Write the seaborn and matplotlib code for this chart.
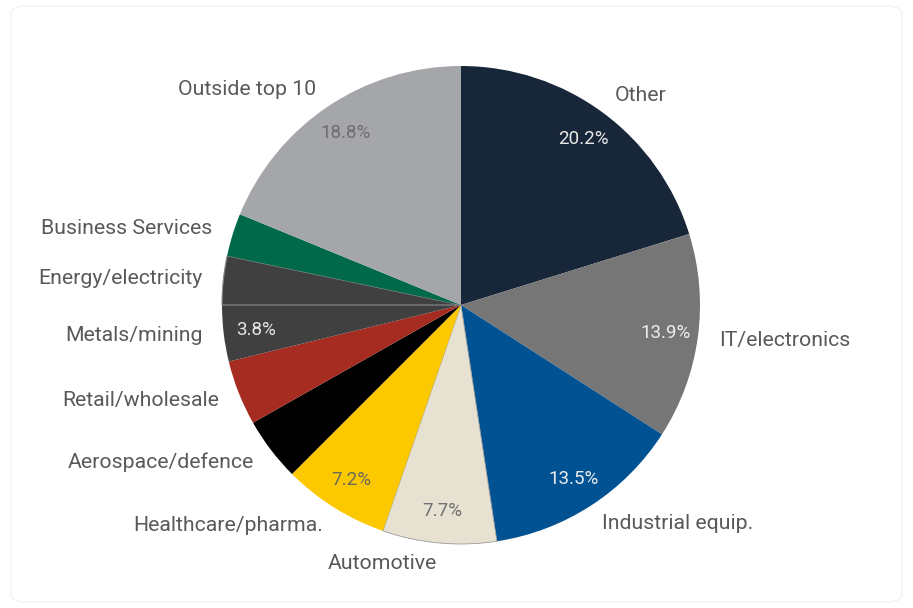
import matplotlib
matplotlib.use("Agg")
import matplotlib.pyplot as plt
from matplotlib.patches import FancyBboxPatch
import seaborn as sns

# Sector shares (%), clockwise from 12 o'clock
sectors = ["Other", "IT/electronics", "Industrial equip.", "Automotive",
           "Healthcare/pharma.", "Aerospace/defence", "Retail/wholesale",
           "Metals/mining", "Energy/electricity", "Business Services",
           "Outside top 10"]
shares = [20.2, 13.9, 13.5, 7.7, 7.2, 4.3, 4.4, 3.8, 3.3, 2.9, 18.8]
show_pct = [True, True, True, True, True, False, False, True, False, False, True]
palette = ["#172639", "#767676", "#005293", "#e6e1d0", "#fcc800", "#000000",
           "#a62b21", "#404040", "#404040", "#00694a", "#a5a6aa"]
pct_colors = ["#e8e8e8", "#ececec", "#ececec", "#707070", "#6a6a5a", "#ffffff",
              "#ffffff", "#e6e6e6", "#ffffff", "#ffffff", "#6e6e70"]

sns.set_theme(style="white")
plt.rcParams["font.family"] = ["Roboto", "DejaVu Sans"]

W, H, DPI = 913, 608, 100
fig = plt.figure(figsize=(W / DPI, H / DPI), dpi=DPI)
fig.patch.set_facecolor("white")

# faint card outline
card = FancyBboxPatch((0.012, 0.01), 0.976, 0.98,
                      boxstyle="round,pad=0,rounding_size=0.015",
                      transform=fig.transFigure, facecolor="none",
                      edgecolor="#f3f3f3", linewidth=1.0, zorder=0)
fig.patches.append(card)

ax = fig.add_axes([0, 0, 1, 1])
ax.set_facecolor("none")

R_PX = 239.0
cx, cy = 461.0, 608 - 305.0

def pct_fmt(values, flags):
    it = iter(zip(values, flags))
    def f(p):
        v, keep = next(it)
        return f"{v:.1f}%" if keep else ""
    return f

wedges, texts, autotexts = ax.pie(
    shares, labels=sectors, colors=palette, startangle=90, counterclock=False,
    labeldistance=1.088, pctdistance=0.865,
    autopct=pct_fmt(shares, show_pct),
    wedgeprops=dict(linewidth=0, edgecolor="none"),
    textprops=dict(fontsize=15.3, color="#595959"),
)
for t, c in zip(autotexts, pct_colors):
    t.set_color(c)
    t.set_fontsize(13.5)

# thin separators around the energy slice
wedges[8].set_edgecolor("#8a8a8a")
wedges[8].set_linewidth(0.8)
wedges[3].set_edgecolor("#9a9a9a")
wedges[3].set_linewidth(0.6)

ax.set_xlim(-cx / R_PX, (W - cx) / R_PX)
ax.set_ylim(-cy / R_PX, (H - cy) / R_PX)
ax.set_aspect("auto")
ax.axis("off")

fig.savefig("out.png", dpi=DPI, facecolor="white")
